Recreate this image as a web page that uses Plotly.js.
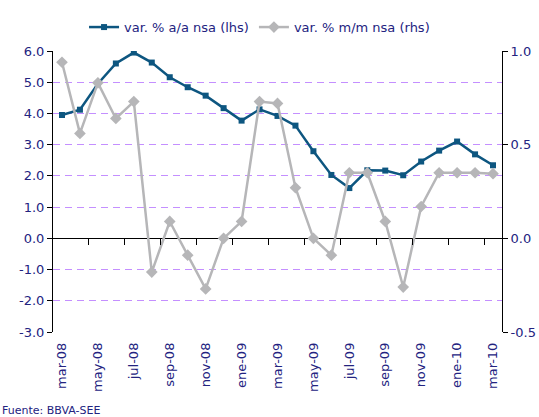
<!DOCTYPE html>
<html><head><meta charset="utf-8">
<script src="https://cdn.plot.ly/plotly-3.0.1.min.js"></script>
<style>html,body{margin:0;padding:0;background:#fff}#chart{width:539px;height:417px}</style>
</head><body><div id="chart"></div>
<script>
const months = ["mar-08","abr-08","may-08","jun-08","jul-08","ago-08","sep-08","oct-08","nov-08","dic-08",
  "ene-09","feb-09","mar-09","abr-09","may-09","jun-09","jul-09","ago-09","sep-09","oct-09","nov-09","dic-09",
  "ene-10","feb-10","mar-10"];
const varAA = [3.95,4.12,4.95,5.6,5.95,5.63,5.16,4.84,4.57,4.17,3.77,4.13,3.92,3.61,2.79,2.03,1.61,2.18,2.17,2.02,2.46,2.81,3.1,2.69,2.34];
const varMM = [0.94,0.56,0.83,0.64,0.73,-0.18,0.09,-0.09,-0.27,0.0,0.09,0.73,0.72,0.27,0.0,-0.09,0.35,0.35,0.09,-0.26,0.17,0.35,0.35,0.35,0.345];
const seriesNames = ["var. % a/a nsa (lhs)","var. % m/m nsa (rhs)"];
const leftTicks = [-3,-2,-1,0,1,2,3,4,5,6];
const leftTickText = ["-3.0","-2.0","-1.0","0.0","1.0","2.0","3.0","4.0","5.0","6.0"];
const rightTicks = [-0.5,0,0.5,1];
const rightTickText = ["-0.5","0.0","0.5","1.0"];
const source = "Fuente: BBVA-SEE";

const txt = '#23237f';
const fam = 'DejaVu Sans, Verdana, sans-serif';

// tick marks on the zero line sit on category boundaries, every two months
const boundaryTicks = months.map((m, i) => i + 1.5).filter((v, i) => i % 2 === 0 && v < months.length - 0.5);

const traces = [
  {x:months, y:varAA, name:seriesNames[0], type:'scatter', mode:'lines+markers',
   xaxis:'x', yaxis:'y',
   line:{color:'#0d5680', width:2.5}, marker:{symbol:'square', size:6, color:'#0d5680'}},
  {x:months, y:varMM, name:seriesNames[1], type:'scatter', mode:'lines+markers',
   xaxis:'x2', yaxis:'y2',
   line:{color:'#b6b6b8', width:2.5}, marker:{symbol:'diamond', size:9, color:'#b6b6b8'}},
  // invisible helper trace carrying the category axis drawn along the zero line
  {x:months, y:months.map(() => 0), xaxis:'x3', yaxis:'y3', type:'scatter', mode:'none',
   showlegend:false, hoverinfo:'skip'}
];

const layout = {
  width:539, height:417,
  margin:{l:53, r:37, t:51, b:85},
  paper_bgcolor:'#fff', plot_bgcolor:'rgba(0,0,0,0)',
  font:{family:fam, size:13, color:txt},
  showlegend:true,
  legend:{orientation:'h', x:0.46, xanchor:'center', y:1.085, yanchor:'middle',
          font:{family:fam, size:13, color:txt}, bgcolor:'rgba(0,0,0,0)', tracegroupgap:0},
  xaxis:{type:'category', categoryarray:months, range:[-0.5,24.5], dtick:2, tick0:0,
         tickangle:-90, showline:false, ticks:'', showgrid:false, zeroline:false,
         ticklabelstandoff:7,
         tickfont:{family:fam, size:13, color:txt}},
  xaxis2:{type:'category', categoryarray:months, range:[-0.5,24.5], overlaying:'x',
          anchor:'y2', showticklabels:false, ticks:'', showgrid:false, showline:false, zeroline:false},
  xaxis3:{type:'category', categoryarray:months, range:[-0.5,24.5], anchor:'y3',
          showticklabels:false, ticks:'outside', ticklen:6, tickcolor:'#000', tickwidth:1,
          tickmode:'array', tickvals:boundaryTicks, showgrid:false, showline:false, zeroline:false},
  yaxis3:{domain:[1/3, 0.4], range:[-1,1], showticklabels:false, showgrid:false, zeroline:false, showline:false, ticks:'', anchor:'x3'},
  yaxis:{range:[-3,6], tickmode:'array', tickvals:leftTicks, ticktext:leftTickText,
         showline:true, linecolor:'#000', linewidth:1,
         ticks:'outside', ticklen:5, tickcolor:'#000',
         showgrid:true, gridcolor:'#c48fff', griddash:'7px,5px', gridwidth:1,
         zeroline:true, zerolinecolor:'#000', zerolinewidth:1,
         tickfont:{family:fam, size:13, color:txt}},
  yaxis2:{range:[-0.5,1], tickmode:'array', tickvals:rightTicks, ticktext:rightTickText,
          overlaying:'y', side:'right', anchor:'x2',
          showline:true, linecolor:'#000', linewidth:1, ticks:'outside', ticklen:5, tickcolor:'#000',
          showgrid:false, zeroline:false,
          tickfont:{family:fam, size:13, color:txt}},
  annotations:[{text:source, xref:'paper', yref:'paper', x:-53/449, y:-79/281, xanchor:'left', yanchor:'middle',
                showarrow:false, font:{family:fam, size:11, color:txt}}]
};

Plotly.newPlot('chart', traces, layout, {staticPlot:true, displayModeBar:false});
</script></body></html>
